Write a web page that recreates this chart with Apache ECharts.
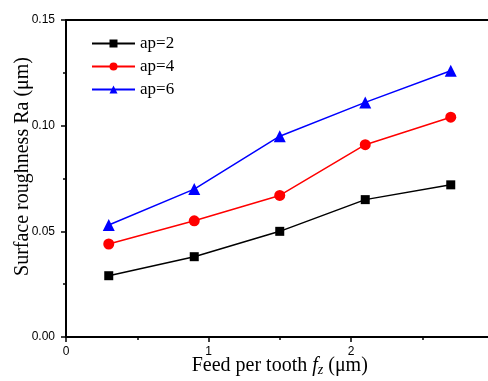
<!DOCTYPE html>
<html>
<head>
<meta charset="utf-8">
<script src="https://cdn.jsdelivr.net/npm/echarts@6/dist/echarts.min.js"></script>
<style>
  html, body { margin: 0; padding: 0; background: #fff; }
  #container { width: 488px; height: 381px; }
</style>
</head>
<body>
<div id="container"></div>
<script>
var feed = [0.3, 0.9, 1.5, 2.1, 2.7];
var ap2 = [0.029, 0.038, 0.050, 0.065, 0.072];
var ap4 = [0.044, 0.055, 0.067, 0.091, 0.104];
var ap6 = [0.053, 0.070, 0.095, 0.111, 0.126];
var names = ['ap=2', 'ap=4', 'ap=6'];
var colors = ['#000000', '#ff0000', '#0000ff'];
var symbols = ['rect', 'circle', 'triangle'];
var sizes = [9, 11, 12];

function pairs(ys) {
    return feed.map(function (x, i) { return [x, ys[i]]; });
}

var myChart = echarts.init(document.getElementById('container'));
var serif = '"Liberation Serif", "Times New Roman", serif';
var sans = '"Liberation Sans", Arial, sans-serif';

var option = {
    animation: false,
    backgroundColor: '#fff',
    grid: { left: 66, top: 20, width: 427.5, height: 317, outerBoundsMode: 'none', containLabel: false },
    legend: {
        orient: 'vertical',
        left: 86,
        top: 30,
        itemWidth: 43,
        itemHeight: 10,
        itemGap: 6,
        textStyle: { fontFamily: serif, fontSize: 17, color: '#000' },
        data: names
    },
    xAxis: [{
        type: 'value',
        min: 0, max: 3, interval: 1,
        name: 'Feed per tooth {i|f}{s|z} (μm)',
        nameLocation: 'middle',
        nameGap: 18,
        nameMoveOverlap: false,
        nameTextStyle: {
            fontFamily: serif, fontSize: 20, color: '#000',
            rich: {
                i: { fontFamily: serif, fontSize: 20, fontStyle: 'italic', color: '#000' },
                s: { fontFamily: serif, fontSize: 14, fontStyle: 'italic', color: '#000', verticalAlign: 'bottom', padding: [8, 0, 0, 0] }
            }
        },
        axisLine: { lineStyle: { color: '#000', width: 2 } },
        axisTick: { inside: false, length: 5, lineStyle: { color: '#000', width: 1.5 } },
        minorTick: { show: true, splitNumber: 2, length: 3, lineStyle: { color: '#000', width: 1.5 } },
        axisLabel: { fontFamily: sans, fontSize: 12, color: '#000', margin: 9, showMaxLabel: false },
        splitLine: { show: false }
    }, {
        type: 'value',
        position: 'top',
        min: 0, max: 3,
        axisLine: { show: true, onZero: false, lineStyle: { color: '#000', width: 2 } },
        axisTick: { show: false },
        axisLabel: { show: false },
        splitLine: { show: false }
    }],
    yAxis: {
        type: 'value',
        min: 0, max: 0.15, interval: 0.05,
        name: 'Surface roughness Ra (μm)',
        nameLocation: 'middle',
        nameGap: 33,
        nameMoveOverlap: false,
        nameTextStyle: { fontFamily: serif, fontSize: 20, color: '#000', padding: [0, 0, 0, 24] },
        axisLine: { show: true, lineStyle: { color: '#000', width: 2 } },
        axisTick: { inside: false, length: 5, lineStyle: { color: '#000', width: 1.5 } },
        minorTick: { show: true, splitNumber: 2, length: 3, lineStyle: { color: '#000', width: 1.5 } },
        axisLabel: {
            fontFamily: sans, fontSize: 12, color: '#000', margin: 11,
            formatter: function (v) { return v.toFixed(2); }
        },
        splitLine: { show: false }
    },
    series: [ap2, ap4, ap6].map(function (ys, k) {
        return {
            name: names[k],
            type: 'line',
            data: pairs(ys),
            symbol: symbols[k],
            symbolSize: sizes[k],
            showAllSymbol: true,
            itemStyle: { color: colors[k] },
            lineStyle: { color: colors[k], width: 1.5 }
        };
    })
};

myChart.setOption(option);
</script>
</body>
</html>
